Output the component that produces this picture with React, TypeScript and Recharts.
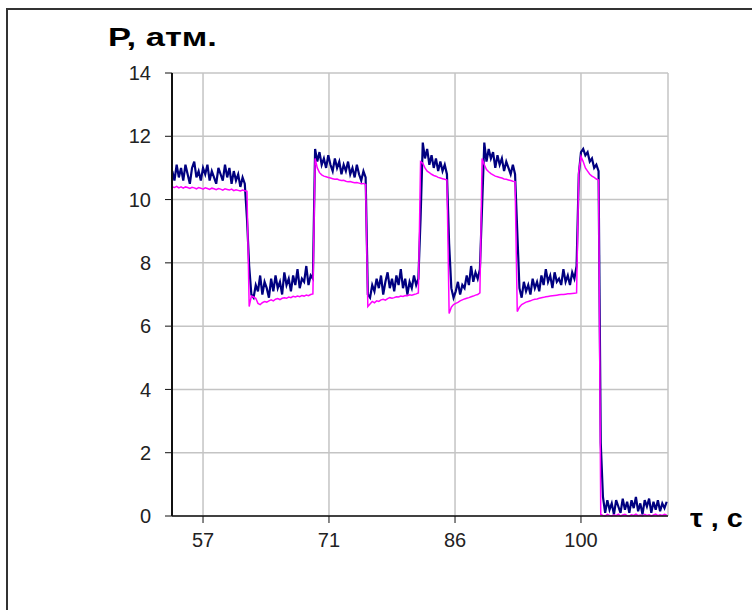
import { CartesianGrid, Line, LineChart, XAxis, YAxis } from 'recharts';

// sampling: one reading every 0.25 s starting at 53.5 s
const T0 = 53.5;
const DT = 0.25;

const xTickTimes = [57, 71.33, 85.67, 100];
const xTickLabels = ['57', '71', '86', '100'];
const yTicks = [0, 2, 4, 6, 8, 10, 12, 14];

// upstream pressure (navy, noisy)
const pressureA = [
  // high 1
  10.9, 10.6, 11.1, 10.7, 11.0, 10.6, 11.1, 10.8, 10.5, 11.0, 11.2, 10.7, 10.9, 10.6, 11.0, 10.8, 11.1, 10.6,
  10.9, 10.7, 10.5, 11.0, 10.8, 10.6, 11.1, 10.7, 11.0, 10.5, 10.9, 10.6, 10.8, 10.4, 10.7, 10.5, 9.4,
  // low 1
  7.9, 7.0, 6.9, 7.3, 7.1, 7.6, 7.0, 7.4, 7.2, 6.9, 7.5, 7.1, 7.6, 7.2, 7.4, 7.0, 7.7, 7.3, 7.5, 7.1, 7.6, 7.3,
  7.8, 7.2, 7.5, 7.4, 7.9, 7.3, 7.6, 7.5,
  // high 2
  11.6, 11.2, 11.5, 11.1, 11.3, 11.0, 11.4, 11.1, 10.9, 11.3, 11.0, 11.2, 10.8, 11.1, 10.9, 11.2, 10.8, 11.0,
  10.7, 11.1, 10.8, 10.6, 10.9, 10.7,
  // low 2
  7.0, 6.9, 7.3, 7.1, 7.5, 7.2, 7.6, 7.0, 7.4, 7.7, 7.2, 7.5, 7.1, 7.6, 7.3, 7.8, 7.2, 7.5, 7.0, 7.4, 7.2, 7.6,
  7.3, 7.5,
  // high 3
  9.4, 11.8, 11.3, 11.6, 11.1, 11.4, 11.0, 11.3, 10.9, 11.2, 10.9, 11.1, 10.8,
  // low 3
  8.6, 7.2, 6.9, 7.1, 7.4, 7.0, 7.3, 7.2, 7.6, 7.3, 7.9, 7.4, 7.7, 7.5, 7.8,
  // high 4
  9.8, 11.8, 11.2, 11.6, 11.3, 11.5, 11.0, 11.4, 11.1, 11.3, 10.9, 11.2, 11.0, 10.8, 11.1, 10.8,
  // low 4
  9.0, 7.2, 6.9, 7.4, 7.1, 7.3, 7.0, 7.5, 7.2, 7.4, 7.1, 7.6, 7.3, 7.8, 7.4, 7.6, 7.2, 7.7, 7.4, 7.5, 7.3, 7.8,
  7.4, 7.6, 7.3, 7.7, 7.5, 7.9,
  // high 5
  10.8, 11.5, 11.6, 11.4, 11.5, 11.2, 11.3, 11.0, 11.1, 10.9,
  // release
  2.3,
  0.6, 0.1, 0.5, 0.2, 0.4, 0.05, 0.5, 0.3, 0.1, 0.55, 0.2, 0.45, 0.1, 0.5, 0.25, 0.6, 0.15, 0.4, 0.05, 0.5, 0.3,
  0.55, 0.1, 0.45, 0.2, 0.5, 0.15, 0.4, 0.25, 0.45,
];

// downstream pressure (magenta, smooth)
const pressureB = [
  10.4, 10.38, 10.42, 10.37, 10.4, 10.36, 10.4, 10.38, 10.35, 10.39, 10.37, 10.34, 10.38, 10.36, 10.33, 10.37,
  10.35, 10.32, 10.36, 10.34, 10.31, 10.35, 10.33, 10.3, 10.34, 10.32, 10.3, 10.33, 10.28, 10.31, 10.29, 10.27,
  10.3, 10.28, 10.26,
  6.62, 6.95, 6.92, 6.88, 6.72, 6.68, 6.74, 6.78, 6.76, 6.8, 6.83, 6.8, 6.85, 6.87, 6.84, 6.88, 6.9, 6.88, 6.92,
  6.9, 6.94, 6.92, 6.95, 6.93, 6.97, 6.95, 6.98, 6.96, 7.0, 7.02,
  11.3, 11.0, 10.85, 10.78, 10.74, 10.72, 10.7, 10.68, 10.66, 10.64, 10.65, 10.62, 10.6, 10.61, 10.58, 10.56,
  10.57, 10.55, 10.53, 10.54, 10.52, 10.5, 10.51, 10.48,
  6.62, 6.7, 6.78, 6.74, 6.8, 6.78, 6.83, 6.85, 6.82, 6.87, 6.9, 6.88, 6.9, 6.93, 6.92, 6.95, 6.94, 6.97, 6.96,
  6.99, 6.98, 7.0, 7.02, 7.05,
  11.2, 11.15, 11.0, 10.9, 10.85, 10.8, 10.76, 10.74, 10.7, 10.68, 10.66, 10.64, 10.62,
  6.4, 6.6, 6.68, 6.72, 6.75, 6.8, 6.83, 6.86, 6.88, 6.9, 6.93, 6.95, 6.98, 7.0, 7.05,
  11.3, 11.1, 10.95, 10.88, 10.82, 10.78, 10.74, 10.72, 10.7, 10.68, 10.65, 10.64, 10.62, 10.6, 10.58, 10.57,
  6.46, 6.6, 6.68, 6.72, 6.76, 6.78, 6.8, 6.83, 6.85, 6.86, 6.88, 6.9, 6.91, 6.93, 6.94, 6.95, 6.96, 6.97, 6.98,
  6.99, 7.0, 7.0, 7.01, 7.02, 7.02, 7.03, 7.04, 7.05,
  10.9, 11.36, 11.2, 11.0, 10.9, 10.8, 10.74, 10.7, 10.65, 10.62,
  0.05,
  0.02, 0.0, 0.05, 0.02, 0.0, 0.04, 0.01, 0.06, 0.0, 0.03, 0.05, 0.01, 0.0, 0.04, 0.02, 0.06, 0.01, 0.03, 0.0,
  0.05, 0.02, 0.04, 0.0, 0.03, 0.06, 0.01, 0.04, 0.02, 0.05, 0.03,
];

const chartData = pressureA.map((a, i) => ({
  t: T0 + i * DT,
  a,
  b: pressureB[i],
}));

const tickStyle = { fill: '#222', fontSize: 20, fontFamily: 'Liberation Sans, Arial, sans-serif' };

function formatXTick(value: number) {
  const idx = xTickTimes.indexOf(value);
  return idx >= 0 ? xTickLabels[idx] : String(Math.round(value));
}

export default function App() {
  return (
    <div
      style={{
        position: 'absolute',
        left: 6,
        top: 8,
        width: 760,
        height: 620,
        borderLeft: '2px solid #333',
        borderTop: '2px solid #333',
        fontFamily: 'Liberation Sans, Arial, sans-serif',
      }}
    >
      <div
        style={{
          position: 'absolute',
          left: 100,
          top: 13,
          fontSize: 25,
          fontWeight: 'bold',
          color: '#000',
          whiteSpace: 'nowrap',
          transform: 'scaleX(1.38)',
          transformOrigin: 'left top',
        }}
      >
        P, атм.
      </div>
      <div
        style={{
          position: 'absolute',
          left: 682,
          top: 494,
          fontSize: 25,
          fontWeight: 'bold',
          color: '#000',
          whiteSpace: 'nowrap',
          transform: 'scaleX(1.15)',
          transformOrigin: 'left top',
        }}
      >
        τ , c
      </div>
      <div style={{ position: 'absolute', left: 0, top: -2 }}>
        <LineChart
          width={744}
          height={600}
          data={chartData}
          margin={{ top: 65, right: 84, bottom: 62, left: 104 }}
        >
          <CartesianGrid stroke="#c4c4c4" strokeWidth={1.5} />
          <XAxis
            dataKey="t"
            type="number"
            domain={[53.47, 109.9]}
            ticks={xTickTimes}
            tickFormatter={formatXTick}
            allowDataOverflow
            height={30}
            tick={tickStyle}
            tickSize={7}
            tickMargin={10}
            stroke="#111"
            axisLine={{ stroke: '#111', strokeWidth: 1.5 }}
          />
          <YAxis
            type="number"
            domain={[0, 14]}
            ticks={yTicks}
            width={60}
            tick={tickStyle}
            tickSize={7}
            tickMargin={14}
            stroke="#111"
            axisLine={{ stroke: '#111', strokeWidth: 2 }}
          />
          <Line
            dataKey="a"
            stroke="#000080"
            strokeWidth={2.2}
            dot={false}
            isAnimationActive={false}
          />
          <Line
            dataKey="b"
            stroke="#ff00ff"
            strokeWidth={1.5}
            dot={false}
            isAnimationActive={false}
          />
        </LineChart>
      </div>
    </div>
  );
}
